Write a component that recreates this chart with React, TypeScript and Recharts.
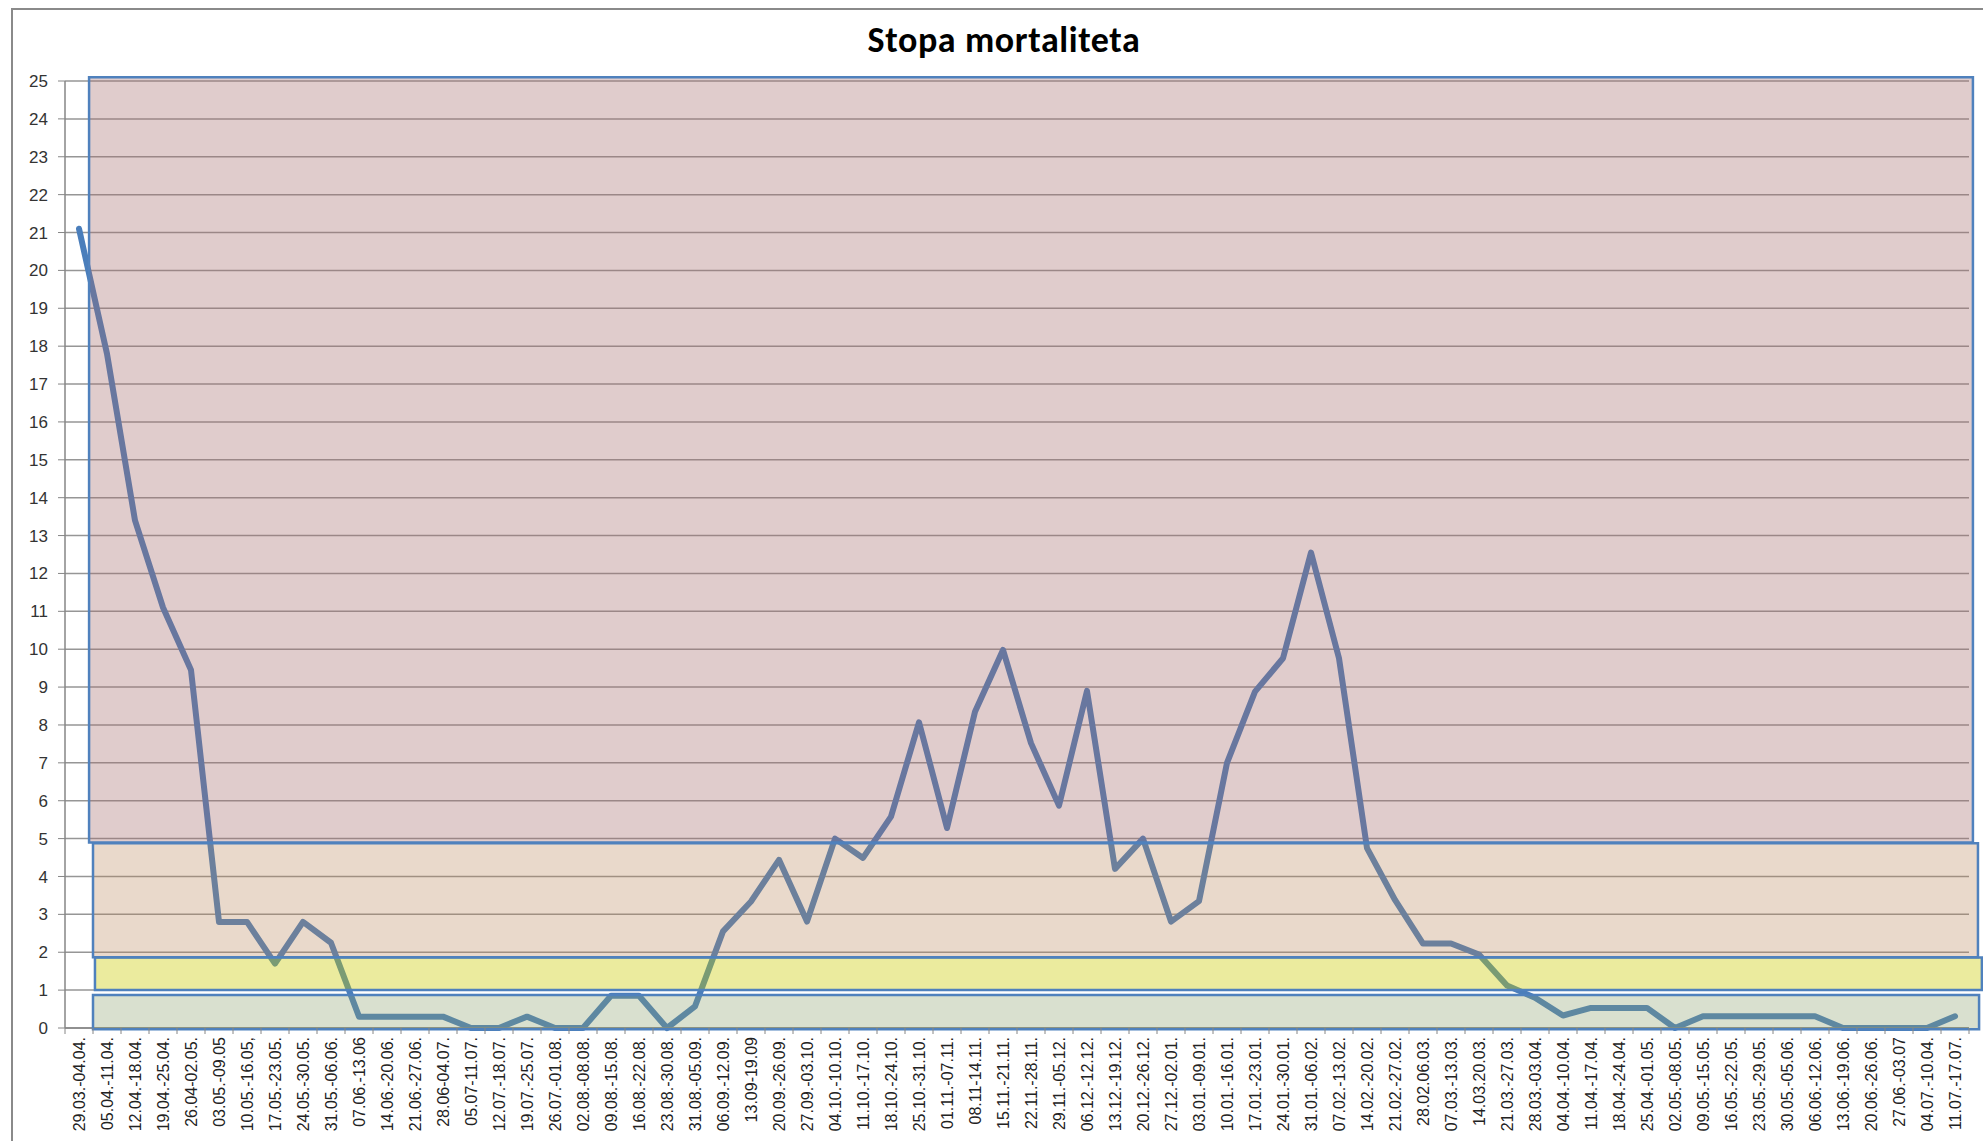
import React from 'react';
import { LineChart, Line, XAxis, YAxis, CartesianGrid, ReferenceArea } from 'recharts';

const weeks = [
  '29.03.-04.04.', '05.04.-11.04.', '12.04.-18.04.', '19.04.-25.04.', '26.04-02.05.',
  '03.05.-09.05', '10.05.-16.05,', '17.05.-23.05.', '24.05.-30.05.', '31.05.-06.06.',
  '07.06.-13.06', '14.06.-20.06.', '21.06.-27.06.', '28.06-04.07.', '05.07-11.07.',
  '12.07.-18.07.', '19.07.-25.07.', '26.07.-01.08.', '02.08.-08.08.', '09.08.-15.08.',
  '16.08.-22.08.', '23.08.-30.08.', '31.08.-05.09.', '06.09.-12.09.', '13.09-19.09',
  '20.09.-26.09.', '27.09.-03.10.', '04.10.-10.10.', '11.10.-17.10.', '18.10.-24.10.',
  '25.10.-31.10.', '01.11.-07.11.', '08.11-14.11.', '15.11.-21.11.', '22.11.-28.11.',
  '29.11.-05.12.', '06.12.-12.12.', '13.12.-19.12.', '20.12.-26.12.', '27.12.-02.01.',
  '03.01.-09.01.', '10.01.-16.01.', '17.01.-23.01.', '24.01.-30.01.', '31.01.-06.02.',
  '07.02.-13.02.', '14.02.-20.02.', '21.02.-27.02.', '28.02.06.03.', '07.03.-13.03.',
  '14.03.20.03.', '21.03.-27.03.', '28.03.-03.04.', '04.04.-10.04.', '11.04.-17.04.',
  '18.04.-24.04.', '25.04.-01.05.', '02.05.-08.05.', '09.05.-15.05.', '16.05.-22.05.',
  '23.05.-29.05.', '30.05.-05.06.', '06.06.-12.06.', '13.06.-19.06.', '20.06.-26.06.',
  '27.06.-03.07', '04.07.-10.04.', '11.07.-17.07.',
];

const mortality = [
  21.1, 17.8, 13.4, 11.1, 9.45,
  2.8, 2.8, 1.7, 2.8, 2.25,
  0.3, 0.3, 0.3, 0.3, 0,
  0, 0.3, 0, 0, 0.85,
  0.85, 0, 0.57, 2.55, 3.34,
  4.44, 2.81, 5.0, 4.49, 5.58,
  8.07, 5.28, 8.35, 9.98, 7.52,
  5.87, 8.9, 4.2, 5.0, 2.81,
  3.35, 7.0, 8.88, 9.76, 12.55,
  9.76, 4.75, 3.38, 2.23, 2.23,
  1.94, 1.12, 0.8, 0.33, 0.53,
  0.53, 0.53, 0, 0.31, 0.31,
  0.31, 0.31, 0.31, 0, 0,
  0, 0, 0.31,
];

const yTicks = [0, 1, 2, 3, 4, 5, 6, 7, 8, 9, 10, 11, 12, 13, 14, 15, 16, 17, 18, 19, 20, 21, 22, 23, 24, 25];

// risk zones (data units: x in week index, y in rate)
const zoneRed = { x1: 1.36, x2: 68.64, y1: 4.9, y2: 25.1 };
const zoneOrange = { x1: 1.5, x2: 68.82, y1: 1.87, y2: 4.88 };
const zoneYellow = { x1: 1.57, x2: 68.96, y1: 1.0, y2: 1.86 };
const zoneGreen = { x1: 1.5, x2: 68.86, y1: -0.03, y2: 0.87 };

const chartData = weeks.map((w, i) => ({ idx: i + 1, week: w, rate: mortality[i] }));
const xTicks = chartData.map((d) => d.idx);

const TICK_GAP = 9;

const WeekTick = (props: any) => {
  const { x, y, payload, index, visibleTicksCount, width } = props;
  const label = weeks[payload.value - 1];
  const step = width && visibleTicksCount ? width / visibleTicksCount : 28;
  const axisY = y - TICK_GAP;
  return (
    <g>
      <line x1={x - step / 2} x2={x - step / 2} y1={axisY} y2={axisY + 6} stroke="#868686" strokeWidth={1} />
      {index === visibleTicksCount - 1 && (
        <line x1={x + step / 2} x2={x + step / 2} y1={axisY} y2={axisY + 6} stroke="#868686" strokeWidth={1} />
      )}
      <text
        x={x}
        y={y}
        dy="0.36em"
        textAnchor="end"
        transform={`rotate(-90, ${x}, ${y})`}
        fontSize={16}
        fontFamily="'Liberation Sans', Arial, sans-serif"
        fill="#222"
      >
        {label}
      </text>
    </g>
  );
};

const zoneStroke = '#4f81bd';

export default function App() {
  return (
    <div style={{ position: 'absolute', left: 0, top: 0, width: 1983, height: 1141, background: '#fff', overflow: 'hidden' }}>
      <div
        style={{
          position: 'absolute',
          left: 11,
          top: 8,
          width: 1983,
          height: 1141,
          borderLeft: '2px solid #8a8a8a',
          borderTop: '2px solid #8a8a8a',
        }}
      />
      <div
        style={{
          position: 'absolute',
          left: 1004,
          top: 40,
          transform: 'translate(-50%, -50%)',
          fontFamily: "Carlito, Lato, 'Open Sans', sans-serif",
          fontWeight: 700,
          fontSize: 36,
          letterSpacing: 0.6,
          color: '#000',
          whiteSpace: 'nowrap',
        }}
      >
        Stopa mortaliteta
      </div>
      <div style={{ position: 'absolute', left: 0, top: 0 }}>
        <LineChart width={1983} height={1141} data={chartData} margin={{ top: 81, right: 14, bottom: 0, left: 20 }}>
          <CartesianGrid horizontal vertical={false} stroke="#969696" strokeWidth={1.5} />
          <XAxis
            type="number"
            dataKey="idx"
            domain={[0.5, 68.5]}
            ticks={xTicks}
            interval={0}
            height={113}
            tickSize={0}
            tickMargin={TICK_GAP}
            tickLine={false}
            axisLine={{ stroke: '#868686', strokeWidth: 1.5 }}
            tick={<WeekTick />}
          />
          <YAxis
            type="number"
            domain={[0, 25]}
            ticks={yTicks}
            interval={0}
            width={45}
            tickSize={7}
            tickMargin={10}
            axisLine={{ stroke: '#868686', strokeWidth: 1.5 }}
            tickLine={{ stroke: '#868686' }}
            tick={{ fontSize: 17, fill: '#333', fontFamily: "'Liberation Sans', Arial, sans-serif" }}
          />
          <Line
            type="linear"
            dataKey="rate"
            stroke="#4a7ebb"
            strokeWidth={6}
            dot={false}
            activeDot={false}
            strokeLinejoin="round"
            strokeLinecap="round"
            isAnimationActive={false}
          />
          <ReferenceArea {...zoneRed} fill="rgb(164,105,105)" fillOpacity={0.34} stroke={zoneStroke} strokeWidth={2.5} ifOverflow="visible" zIndex={900} />
          <ReferenceArea {...zoneOrange} fill="rgb(184,132,87)" fillOpacity={0.31} stroke={zoneStroke} strokeWidth={2.5} ifOverflow="visible" zIndex={900} />
          <ReferenceArea {...zoneYellow} fill="rgb(203,203,0)" fillOpacity={0.38} stroke={zoneStroke} strokeWidth={2.5} ifOverflow="visible" zIndex={900} />
          <ReferenceArea {...zoneGreen} fill="rgb(137,159,106)" fillOpacity={0.32} stroke={zoneStroke} strokeWidth={2.5} ifOverflow="visible" zIndex={900} />
        </LineChart>
      </div>
    </div>
  );
}
